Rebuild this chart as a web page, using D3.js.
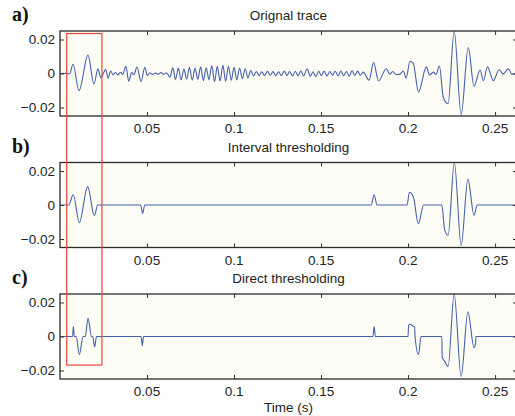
<!DOCTYPE html>
<html>
<head>
<meta charset="utf-8">
<script src="https://cdn.jsdelivr.net/npm/d3@7"></script>
<style>
body { margin: 0; background: #fff; }
svg text { font-family: "Liberation Sans", Arial, Helvetica, sans-serif; }
</style>
</head>
<body>
<div id="chart"></div>
<script>

// traces: [time in ms, amplitude in units of 1e-3]
var traceOriginal = [
    [0,0],[4,0.1],[5.5,-0.3],
    [7.5,5.4],[10.9,-10.1],[16.1,10.8],[19.5,-6.2],[21.8,2.7],[23.4,-2.3],[26.3,2.3],[27.6,-2.7],[29.1,1.5],
    [30.5,-0.8],[32,0.6],[33.3,-0.9],[34.8,0.7],[36,-0.6],
    [37.9,4.2],[39.5,-4.6],[41.2,0.5],[42.5,-0.8],[44.2,3.8],[46.6,-4.8],[48.7,3.6],[50.2,-1.2],
    [51.6,0.4],[53.2,-0.5],[54.8,0.3],[56.4,-0.4],[58,0.5],[59.6,-0.6],[61.2,0.4],
    [63.2,-2.2],[64.8,3.4],[66.4,-3.5],[68,3.2],[69.6,-3.8],[71.2,2.6],[72.8,-3.3],[74.4,3.6],[76,-3.9],
    [77.6,3.0],[79.2,-3.4],[80.8,3.9],[82.4,-4.1],[84,3.4],[85.6,-3.6],[87.2,4.6],[88.8,-4.8],[90.4,4.2],
    [92,-4.4],[93.6,4.8],[95.2,-4.6],[96.8,4.3],[98.4,-4.0],[100,3.6],[101.6,-3.8],[103.2,3.2],[104.8,-3.0],
    [106.4,2.8],[108,-2.6],[109.6,1.8],
    [111.2,-1.4],[112.8,1.2],[114.4,-1.3],[116,1.0],[117.6,-1.2],[119.2,1.3],[120.8,-1.0],[122.4,1.1],
    [124,-1.4],[125.6,1.0],[127.2,-1.2],[128.8,1.4],[130.4,-1.1],[132,1.2],[133.6,-1.5],[135.2,1.3],
    [136.8,-1.3],[138.4,1.6],[140,-1.5],[142,2.8],[143.8,-1.6],[145.4,1.0],[147,-1.8],[148.6,1.3],
    [150.2,-1.2],[151.8,1.4],[153.4,-1.5],[155,1.2],[156.6,-1.0],[158.2,1.3],[159.8,-1.4],[161.4,1.6],
    [163,-1.3],[164.6,1.2],[166.2,-1.6],[167.8,1.8],[169.4,-1.2],[171,1.4],[172.6,-1.0],[174.2,0.8],
    [177.6,-3.9],[180.2,6.5],[183,-4.4],[187.5,2.8],[189.5,-0.4],[191.2,1.2],[193,-0.6],[195.2,-0.5],
    [197.3,1.5],[198.9,-2.7],[201.1,7.2],[203,6.0],[206,-11],[210.5,3.9],[212.3,-0.8],[214.6,0.8],
    [216,-0.6],[218,4.4],[220.3,-14.3],[223,-17.8],[226.5,25],[230.5,-24.2],[234.6,15.2],[237.9,-7.5],
    [241.4,2.1],[243.3,-4.3],[245.6,4.0],[249,-4.2],[252.3,2.2],[254.6,-0.2],[257.7,2.7],[259.6,-0.5],[263,0.2]
];

var traceInterval = [
    [0,0],[5,0],[7.6,6],[11.1,-10.4],[15.9,10.8],[19.7,-6.2],[21.7,0],
    [46.3,0],[47.5,-5],[48.7,0],
    [178.8,0],[180.5,6],[182.2,0],
    [199.4,0],[200.8,7.5],[203,5],[205.9,-11],[209,0],
    [219.4,0],[221,-14.3],[223,-17.8],[226.6,25],[230.5,-23.8],[234.4,15.2],[237.9,-6],[239.8,0],[263,0]
];

var traceDirect = [
    [0,0],[7.2,0],[7.7,5.8],[8.2,0],[9.3,0],[11.1,-10.6],[13.3,0],[14.5,0],[16.1,10.7],[18.1,0],
    [18.8,0],[19.9,-6.1],[21,0],
    [46.6,0],[47.3,-5.4],[48.0,0],
    [179.8,0],[180.5,5.8],[181.2,0],
    [200,0],[200.3,6.5],[201,7.2],[203,6.1],[203.8,5.6],[204,0],[206,-10.6],[207.5,0],
    [219.4,0],[219.6,-12],[221,-14.5],[223,-17.7],[226.5,25],[230.5,-23.5],[234.4,14.5],
    [237.9,-6.5],[238.8,-4],[239,0],[263,0]
];

var panelTitles = ["Orignal trace", "Interval thresholding", "Direct thresholding"];
var panelLetters = ["a)", "b)", "c)"];
var xTicks = [0.05, 0.1, 0.15, 0.2, 0.25];
var xTickLabels = ["0.05", "0.1", "0.15", "0.2", "0.25"];
var yTicks = [0.02, 0, -0.02];
var yTickLabels = ["0.02", "0", "\u22120.02"];

// red highlight box: time span (ms), top amplitude in panel a, bottom amplitude in panel c
var boxTime = [3.85, 24.1];
var boxAmp = [23.5, -16.8];


var divWidth = 515, divHeight = 416;
var svg = d3.select("#chart").append("svg").attr("width", divWidth).attr("height", divHeight);

var margin = {left: 60, right: 517},
    panelTops = [31, 162.5, 294],
    panelH = 85,
    tickLen = 4;

var x = d3.scaleLinear().domain([0, 0.2626]).range([margin.left, margin.right]);

var traces = [traceOriginal, traceInterval, traceDirect];
var yScales = [];

traces.forEach(function(data, i) {
    var top = panelTops[i];
    var y = d3.scaleLinear().domain([-0.025, 0.025]).range([top + panelH, top]);
    yScales.push(y);

    var g = svg.append("g");

    g.append("rect")
        .attr("x", margin.left).attr("y", top)
        .attr("width", margin.right - margin.left).attr("height", panelH)
        .attr("fill", "#fdfdf5");

    svg.append("defs").append("clipPath").attr("id", "clip" + i)
      .append("rect")
        .attr("x", margin.left).attr("y", top - 1)
        .attr("width", margin.right - margin.left).attr("height", panelH + 2);

    var line = d3.line()
        .curve(d3.curveMonotoneX)
        .x(function(d) { return x(d[0] / 1000); })
        .y(function(d) { return y(d[1] / 1000); });

    g.append("path")
        .datum(data)
        .attr("clip-path", "url(#clip" + i + ")")
        .attr("fill", "none")
        .attr("stroke", "#4560ad")
        .attr("stroke-width", 1.1)
        .attr("d", line);

    // inward ticks on all four sides (matlab box style)
    var axB = d3.axisBottom(x).tickValues(xTicks).tickSize(-tickLen).tickFormat("");
    var axT = d3.axisTop(x).tickValues(xTicks).tickSize(-tickLen).tickFormat("");
    var axL = d3.axisLeft(y).tickValues(yTicks).tickSize(-tickLen).tickFormat("");
    var axR = d3.axisRight(y).tickValues(yTicks).tickSize(-tickLen).tickFormat("");

    [[axB, "translate(0," + (top + panelH) + ")"],
     [axT, "translate(0," + top + ")"],
     [axL, "translate(" + margin.left + ",0)"],
     [axR, "translate(" + margin.right + ",0)"]].forEach(function(a) {
        var ax = g.append("g").attr("transform", a[1]).call(a[0]);
        ax.select(".domain").remove();
        ax.selectAll("line").attr("stroke", "#333").attr("stroke-width", 1);
    });

    g.append("rect")
        .attr("x", margin.left).attr("y", top)
        .attr("width", margin.right - margin.left).attr("height", panelH)
        .attr("fill", "none").attr("stroke", "#2a2a2a").attr("stroke-width", 1.3);

    g.selectAll(".xlab").data(xTicks).enter().append("text")
        .attr("x", function(d) { return x(d); })
        .attr("y", top + panelH + 17)
        .attr("text-anchor", "middle")
        .attr("font-size", "13.5px")
        .attr("fill", "#222")
        .text(function(d, k) { return xTickLabels[k]; });

    g.selectAll(".ylab").data(yTicks).enter().append("text")
        .attr("x", margin.left - 5)
        .attr("y", function(d) { return y(d); })
        .attr("dy", "0.35em")
        .attr("text-anchor", "end")
        .attr("font-size", "13.5px")
        .attr("fill", "#222")
        .text(function(d, k) { return yTickLabels[k]; });

    g.append("text")
        .attr("x", (margin.left + margin.right) / 2)
        .attr("y", top - 11)
        .attr("text-anchor", "middle")
        .attr("font-size", "13.5px")
        .attr("fill", "#222")
        .text(panelTitles[i]);

    g.append("text")
        .attr("x", 12)
        .attr("y", top - 10)
        .attr("font-size", "20px")
        .attr("font-weight", "bold")
        .style("font-family", "'Liberation Serif', 'Times New Roman', serif")
        .attr("fill", "#111")
        .text(panelLetters[i]);
});

svg.append("text")
    .attr("x", (margin.left + margin.right) / 2)
    .attr("y", 412)
    .attr("text-anchor", "middle")
    .attr("font-size", "13.5px")
    .attr("fill", "#222")
    .text("Time (s)");

// highlight box spanning all three panels
var bx0 = x(boxTime[0] / 1000), bx1 = x(boxTime[1] / 1000),
    by0 = yScales[0](boxAmp[0] / 1000), by1 = yScales[2](boxAmp[1] / 1000);
svg.append("rect")
    .attr("x", bx0).attr("y", by0)
    .attr("width", bx1 - bx0).attr("height", by1 - by0)
    .attr("fill", "none")
    .attr("stroke", "#e8473f")
    .attr("stroke-width", 1.2);

</script>
</body>
</html>
